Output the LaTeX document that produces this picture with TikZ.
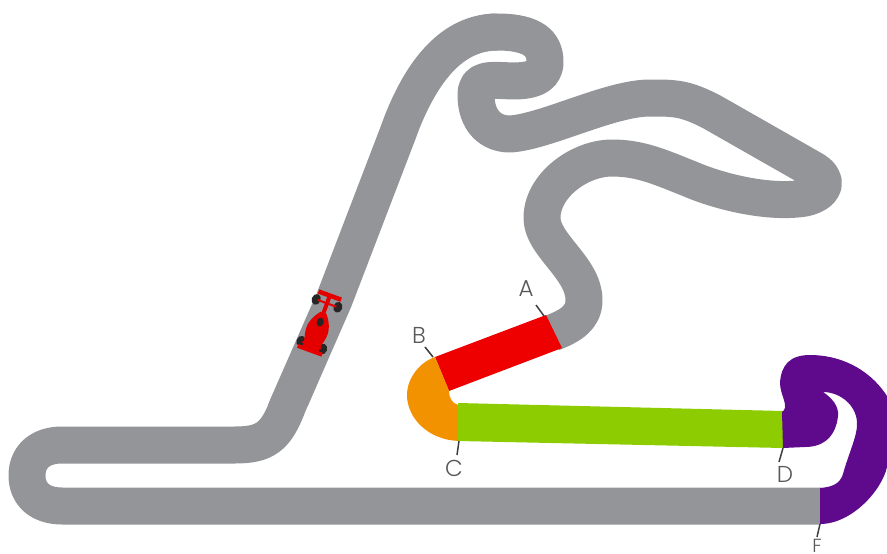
\documentclass[tikz,border=0pt]{standalone}
\usepackage{fontspec}
\setmainfont{Poppins}[UprightFont={* Light}]
\definecolor{trackgrey}{HTML}{939598}
\definecolor{redsec}{HTML}{EE0000}
\definecolor{orangesec}{HTML}{F39200}
\definecolor{greensec}{HTML}{8CCC00}
\definecolor{purplesec}{HTML}{5F0A8C}
\definecolor{labelgrey}{HTML}{58595B}
\tikzset{
  track/.style={draw=trackgrey,line width=37pt,line join=round,line cap=butt},
  sect/.style={draw=none},
  tick/.style={draw=labelgrey!70!black,line width=1.5pt},
  lab/.style={text=labelgrey,font=\fontsize{23}{23}\selectfont,inner sep=0pt},
  labsmall/.style={text=labelgrey,font=\fontsize{19}{19}\selectfont,inner sep=0pt},
  carred/.style={fill=red!90!black,draw=none},
  wheel/.style={fill=black!85,draw=none}
}
\begin{document}
\begin{tikzpicture}[x=1pt,y=-1pt]
\useasboundingbox (0,0) rectangle (887,554);
% grey track
\draw[track] (821,506) -- (62,506)
  .. controls (40,506) and (27,494) .. (27,475.5)
  .. controls (27,457) and (40,445) .. (62,445)
  -- (235,445)
  .. controls (265,445) and (276,437) .. (288,405)
  -- (334,300)
  -- (398,133)
  .. controls (415,85) and (445,32) .. (497,32)
  .. controls (535,32) and (545,45) .. (545,62)
  .. controls (545,78) and (530,81) .. (512,81)
  .. controls (490,80) and (476,78) .. (476,95)
  .. controls (476,120) and (490,134) .. (510,134)
  .. controls (545,132) and (610,98) .. (650,98)
  .. controls (675,98) and (685,98) .. (712,112)
  -- (812,169)
  .. controls (830,179) and (826,193) .. (805,198)
  .. controls (770,204) and (720,192) .. (690,179)
  .. controls (660,167) and (640,158) .. (612,158)
  .. controls (580,158) and (542,185) .. (542,218)
  .. controls (542,245) and (584,268) .. (584,300)
  .. controls (584,318) and (570,326) .. (552,333);
% the long straight and its bend are a little wider than the rest
\fill[trackgrey] (268,405) -- (315,300) -- (380,133)
  .. controls (400,80) and (440,13.5) .. (497,13.5)
  -- (497,50.5)
  .. controls (460,50.5) and (437,85) .. (417,133)
  -- (353,300) -- (308,405) -- cycle;
% coloured sectors
\fill[redsec,sect] (435,357) -- (546,315) -- (562,348) -- (449,391) -- cycle;
\fill[orangesec,sect] (435,357) .. controls (420,362) and (407,378) .. (407,395)
  .. controls (407,418) and (428,440) .. (459,441)
  -- (458,405) .. controls (452,403) and (449,398) .. (449,391) -- cycle;
\fill[greensec,sect] (458,403) -- (783,411) -- (783,448) -- (458,441) -- cycle;
\fill[purplesec,sect] (782,412) .. controls (790,407) and (780,395) .. (780,383)
  .. controls (781,365) and (790,355) .. (810,355)
  .. controls (838,355) and (868,367) .. (887,396)
  -- (887,467)
  .. controls (882,490) and (852,524) .. (820,524)
  -- (820,488) .. controls (832,487) and (840,484) .. (843,474)
  .. controls (848,455) and (858,435) .. (857,422)
  .. controls (856,405) and (840,392) .. (823,392)
  .. controls (832,398) and (839,406) .. (838,416)
  .. controls (836,435) and (825,447) .. (805,447)
  -- (783,448) -- cycle;
% labels and ticks
\node[lab] (a) at (526,289) {A};
\node[lab] (b) at (419,335) {B};
\node[lab] (c) at (454,468) {C};
\node[lab] (d) at (785,474) {D};
\node[labsmall] (f) at (817,546) {F};
\coordinate (aa) at (536,305); \coordinate (ab) at (544,316);
\coordinate (ba) at (425,347); \coordinate (bb) at (433,357);
\coordinate (ca) at (459,441); \coordinate (cb) at (457,455);
\coordinate (da) at (783,448); \coordinate (db) at (779,462);
\coordinate (fa) at (820,524); \coordinate (fb) at (817,537);
\draw[tick] (aa) -- (ab);
\draw[tick] (ba) -- (bb);
\draw[tick] (ca) -- (cb);
\draw[tick] (da) -- (db);
\draw[tick] (fa) -- (fb);
% car
\begin{scope}[shift={(319.5,324)},rotate=-20]
  \fill[wheel] (-11.5,-22) ellipse (4.5pt and 5.5pt);
  \fill[wheel] (11.5,-22) ellipse (4.5pt and 5.5pt);
  \fill[wheel] (-11.5,22.5) ellipse (4.5pt and 5.5pt);
  \fill[wheel] (11.5,22.5) ellipse (4.5pt and 5.5pt);
  \fill[carred] (-12,-32.5) rectangle (12,-28);
  \fill[carred] (-2,-30) rectangle (2,-10);
  \fill[carred] (-10,-23) rectangle (10,-21);
  \fill[carred] (-10,21.5) rectangle (10,23.5);
  \fill[carred] (-3,-12) .. controls (-8,-6) and (-12,2) .. (-11,10)
     .. controls (-10,18) and (-7,24) .. (-9,28) -- (9,28)
     .. controls (7,24) and (10,18) .. (11,10)
     .. controls (12,2) and (8,-6) .. (3,-12) -- cycle;
  \fill[carred] (-13,26) rectangle (13,30);
  \fill[black!85] (0,-2) ellipse (3.5pt and 4.5pt);
\end{scope}
\end{tikzpicture}
\end{document}
